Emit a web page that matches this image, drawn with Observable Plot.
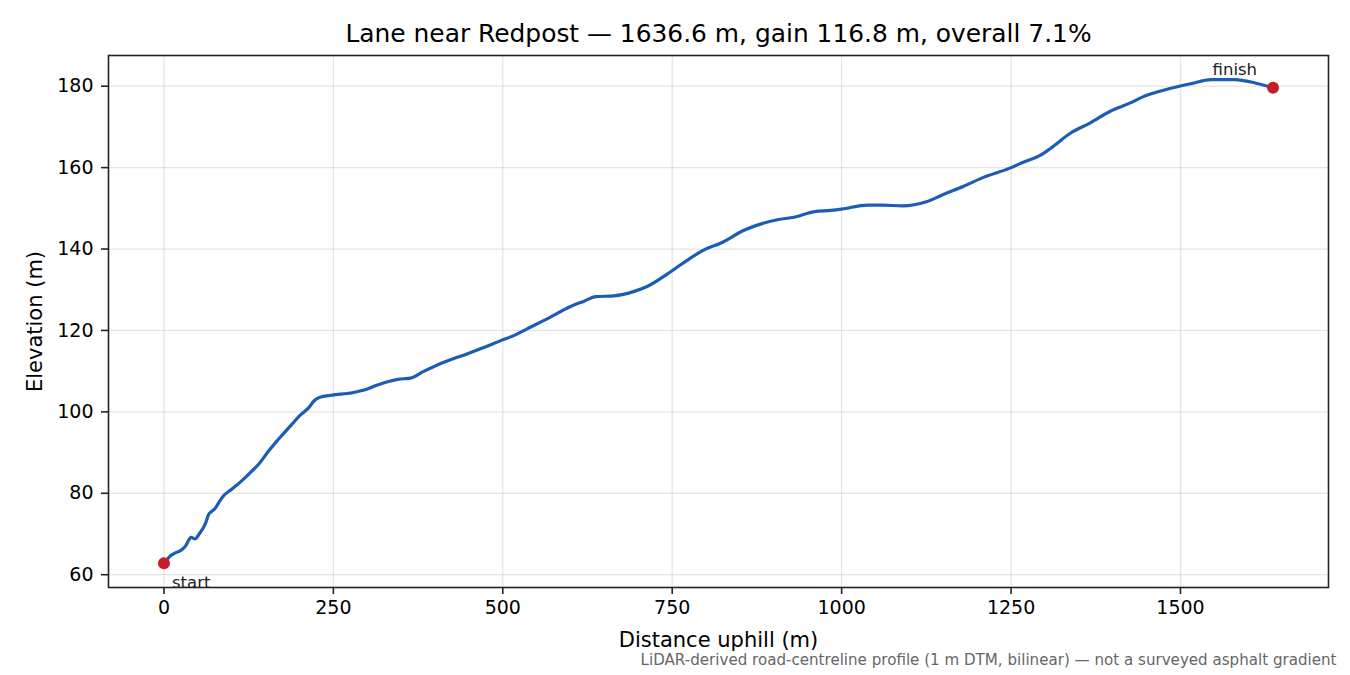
<!DOCTYPE html>
<html>
<head>
<meta charset="utf-8">
<script src="https://cdn.jsdelivr.net/npm/d3@7"></script>
<script src="https://cdn.jsdelivr.net/npm/@observablehq/plot@0.6"></script>
<style>
  html, body { margin: 0; padding: 0; background: #fff; }
  #chart svg { display: block; font-family: "DejaVu Sans", sans-serif; }
</style>
</head>
<body>
<div id="chart"></div>
<script>
const distance = [0,5,10,15,25,32,37,40,46,52,61,66,70,76,82,88,100,115,130,140,155,165,175,189,200,214,222,230,248,278,300,312,330,345,364,384,413,448,467,497,517,536,566,600,620,637,664,694,713,743,763,797,822,856,905,930,960,984,1000,1038,1060,1090,1125,1150,1180,1205,1250,1269,1293,1308,1338,1367,1397,1426,1446,1475,1515,1545,1580,1610,1636.6];
const elevation = [62.8,63.8,64.7,65.2,66.0,67.1,68.6,69.2,68.8,70.0,72.5,74.8,75.5,76.4,78.0,79.4,81.0,83.1,85.5,87.2,90.5,92.5,94.4,97.0,99.0,101.1,102.8,103.6,104.1,104.7,105.6,106.4,107.4,108.0,108.3,110.0,112.2,114.3,115.5,117.5,118.8,120.4,122.9,125.9,127.2,128.3,128.5,129.6,130.8,133.9,136.2,139.8,141.5,144.6,147.2,147.8,149.2,149.5,149.8,150.8,150.8,150.6,151.6,153.4,155.4,157.3,160.0,161.4,163.0,164.7,168.5,171.0,173.9,175.9,177.5,179.0,180.6,181.6,181.6,180.8,179.6];
const xTicks = [0,250,500,750,1000,1250,1500];
const yTicks = [60,80,100,120,140,160,180];
const titleText = "Lane near Redpost — 1636.6 m, gain 116.8 m, overall 7.1%";
const xLabel = "Distance uphill (m)";
const yLabel = "Elevation (m)";
const caption = "LiDAR-derived road-centreline profile (1 m DTM, bilinear) — not a surveyed asphalt gradient";
const endpointLabels = ["start", "finish"];

const profile = distance.map((d, i) => ({d, e: elevation[i]}));
const last = profile.length - 1;
const startPt = [{...profile[0], label: endpointLabels[0]}];
const finishPt = [{...profile[last], label: endpointLabels[1]}];

const xMin = distance[0], xMax = distance[last];
const yMin = d3.min(elevation), yMax = d3.max(elevation);
const xPad = (xMax - xMin) * 0.05, yPad = (yMax - yMin) * 0.05;

const chart = Plot.plot({
  width: 1350,
  height: 675,
  marginLeft: 108,
  marginRight: 22,
  marginTop: 55,
  marginBottom: 88,
  style: {fontFamily: "DejaVu Sans, sans-serif", background: "#fff", color: "#000"},
  x: {domain: [xMin - xPad, xMax + xPad]},
  y: {domain: [yMin - yPad, yMax + yPad]},
  marks: [
    Plot.gridX(xTicks, {stroke: "#000", strokeOpacity: 0.1, strokeWidth: 1.3}),
    Plot.gridY(yTicks, {stroke: "#000", strokeOpacity: 0.1, strokeWidth: 1.3}),
    Plot.axisX(xTicks, {tickSize: 7, tickPadding: 6, fontSize: 19, label: null, stroke: "#222", strokeWidth: 1.6, tickFormat: d => String(d)}),
    Plot.axisY(yTicks, {tickSize: 7, tickPadding: 8, fontSize: 19, label: null, stroke: "#222", strokeWidth: 1.6, tickFormat: d => String(d)}),
    Plot.line(profile, {x: "d", y: "e", stroke: "#1c5cb5", strokeWidth: 3.2, strokeLinejoin: "round", strokeLinecap: "round", curve: "monotone-x"}),
    Plot.dot([...startPt, ...finishPt], {x: "d", y: "e", r: 6, fill: "#c41e2b", stroke: "none"}),
    Plot.text(startPt, {x: "d", y: "e", text: "label", textAnchor: "start", dx: 8, dy: 19, fontSize: 16.5, fill: "#222"}),
    Plot.text(finishPt, {x: "d", y: "e", text: "label", textAnchor: "end", dx: -16, dy: -18, fontSize: 16.5, fill: "#222"}),
    Plot.frame({stroke: "#222", strokeWidth: 1.6}),
    Plot.text([titleText], {frameAnchor: "top", lineAnchor: "middle", dy: -21, fontSize: 24.9, fill: "#000"}),
    Plot.text([xLabel], {frameAnchor: "bottom", lineAnchor: "middle", dy: 53, fontSize: 21, fill: "#000"}),
    Plot.text([yLabel], {frameAnchor: "left", textAnchor: "middle", lineAnchor: "middle", dx: -73, rotate: -90, fontSize: 21, fill: "#000"}),
    Plot.text([caption], {frameAnchor: "bottom-right", textAnchor: "end", lineAnchor: "middle", dx: 8, dy: 73, fontSize: 15.1, fill: "#666"})
  ]
});
document.getElementById("chart").appendChild(chart);
</script>
</body>
</html>
